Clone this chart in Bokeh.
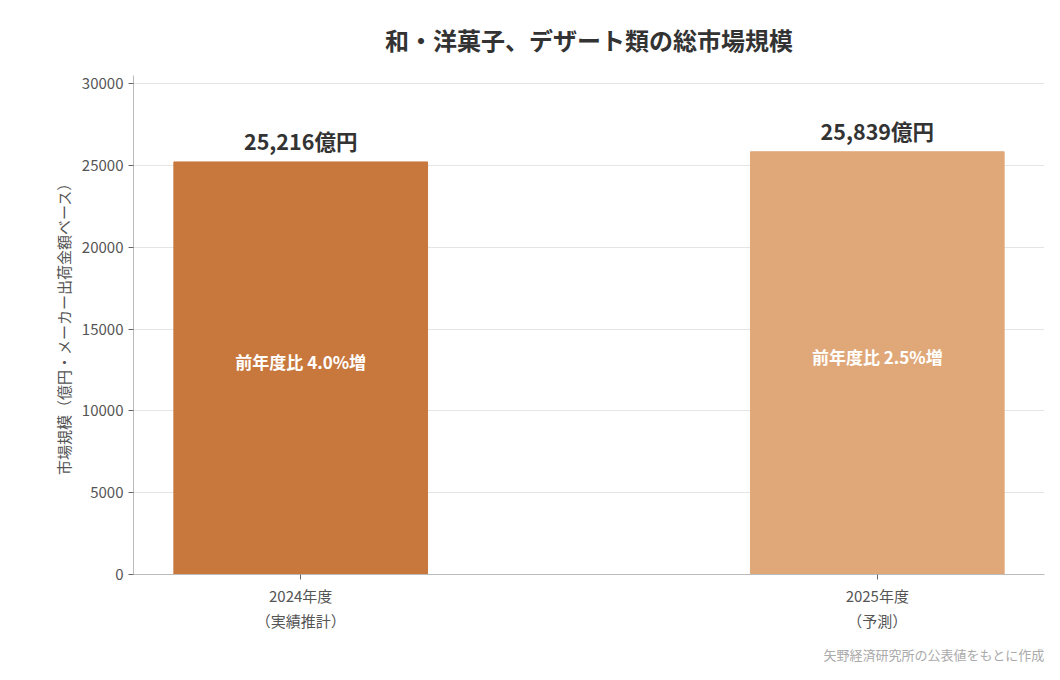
from bokeh.plotting import figure
from bokeh.models import ColumnDataSource, Title, FixedTicker, Range1d
from bokeh.core.properties import value
from bokeh.embed import file_html
from bokeh.resources import INLINE

categories = ["2024年度\n（実績推計）", "2025年度\n（予測）"]
values = [25216, 25839]
value_labels = ["25,216億円", "25,839億円"]
growth_labels = ["前年度比 4.0%増", "前年度比 2.5%増"]
colors = ["#C8773D", "#E0A878"]
y_ticks = [0, 5000, 10000, 15000, 20000, 25000, 30000]

FONT = "Noto Sans CJK JP"
idx = list(range(len(categories)))
src = ColumnDataSource(dict(
    x=idx, top=values, half=[v / 2 for v in values],
    vlab=value_labels, glab=growth_labels, color=colors,
))

p = figure(width=1052, height=672, output_backend="svg", toolbar_location=None,
           x_range=Range1d(-0.29, 1.29), y_range=Range1d(0, 30500),
           min_border_left=133, min_border_right=8, min_border_top=75,
           min_border_bottom=97)
p.outline_line_color = None

p.vbar(x="x", top="top", width=0.44, color="color", source=src)
p.text(x="x", y="top", text="vlab", source=src, text_align="center",
       text_baseline="bottom", y_offset=-6, text_font=value(FONT),
       text_font_style="bold", text_font_size="21.5px", text_color="#333333")
p.text(x="x", y="half", text="glab", source=src, text_align="center",
       text_baseline="middle", y_offset=-7, text_font=value(FONT),
       text_font_style="bold", text_font_size="17px", text_color="#ffffff")

p.title.text = "和・洋菓子、デザート類の総市場規模"
p.title.align = "center"
p.title.text_font = FONT
p.title.text_font_size = "24px"
p.title.text_font_style = "bold"
p.title.text_color = "#333333"
p.title.standoff = 38

p.add_layout(Title(text="矢野経済研究所の公表値をもとに作成", align="right",
                   text_font=FONT, text_font_size="13px", text_color="#aaaaaa",
                   text_font_style="normal", standoff=18), "below")

p.xaxis.ticker = FixedTicker(ticks=idx)
p.xaxis.major_label_overrides = {i: c for i, c in zip(idx, categories)}
p.yaxis.ticker = FixedTicker(ticks=y_ticks)
for ax in (p.xaxis, p.yaxis):
    ax.major_label_text_font = FONT
    ax.major_label_text_font_size = "15px"
    ax.major_label_text_color = "#555555"
    ax.axis_line_color = "#bbbbbb"
    ax.major_tick_line_color = "#666666"
    ax.minor_tick_line_color = None
    ax.major_tick_in = 0
    ax.major_tick_out = 5
p.yaxis.axis_label = "市場規模（億円・メーカー出荷金額ベース）"
p.yaxis.axis_label_text_font = FONT
p.yaxis.axis_label_text_font_size = "15px"
p.yaxis.axis_label_text_font_style = "normal"
p.yaxis.axis_label_text_color = "#555555"
p.xgrid.grid_line_color = None
p.ygrid.grid_line_color = "#e5e5e5"

open("out.html", "w").write(file_html(p, INLINE))
